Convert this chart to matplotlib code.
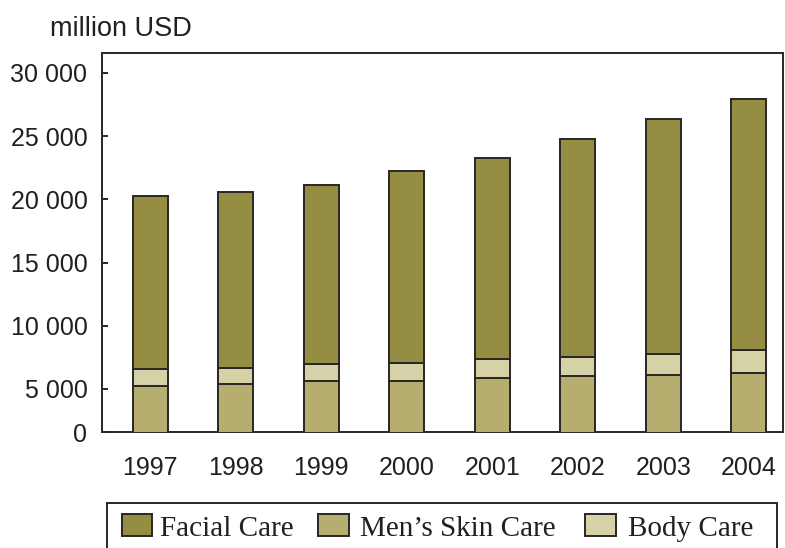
import matplotlib
matplotlib.use("Agg")
import matplotlib.pyplot as plt
from matplotlib.patches import Rectangle

years = ["1997", "1998", "1999", "2000", "2001", "2002", "2003", "2004"]
mens_skin = [5240, 5420, 5630, 5660, 5850, 6030, 6130, 6290]
body_care = [1370, 1270, 1320, 1420, 1500, 1530, 1610, 1800]
facial_care = [13690, 13870, 14190, 15170, 15950, 17230, 18620, 19830]
ytick_vals = [5000, 10000, 15000, 20000, 25000, 30000]
ytick_labels = ["5 000", "10 000", "15 000", "20 000", "25 000", "30 000"]
legend_labels = ["Facial Care", "Men\u2019s Skin Care", "Body Care"]

c_facial = "#958d42"
c_mens = "#b5ae6f"
c_body = "#d6d2a8"
edge = "#2a2626"
txt = "#231f20"

W, H = 785, 548
fig = plt.figure(figsize=(W / 100, H / 100), dpi=100)
ax = fig.add_axes([102 / W, (H - 432) / H, (783 - 102) / W, (432 - 53) / H])

x = list(range(len(years)))
bw = 0.41
ax.bar(x, mens_skin, width=bw, color=c_mens, edgecolor=edge, linewidth=1.4, zorder=3)
ax.bar(x, body_care, width=bw, bottom=mens_skin, color=c_body, edgecolor=edge, linewidth=1.4, zorder=3)
bottom3 = [m + b for m, b in zip(mens_skin, body_care)]
ax.bar(x, facial_care, width=bw, bottom=bottom3, color=c_facial, edgecolor=edge, linewidth=1.4, zorder=3)

ymin, ymax = 1598, 31582
ax.set_ylim(ymin, ymax)
ax.set_xlim(-0.565, 7.40)

ax.set_yticks([ymin] + ytick_vals)
ax.set_yticklabels(["0"] + ytick_labels, family="Liberation Sans", fontsize=18, color=txt)
ax.tick_params(axis="y", direction="in", length=4, width=1.4, color=edge, pad=10.5)
ax.set_xticks(x)
ax.set_xticklabels(years, family="Liberation Sans", fontsize=18, color=txt)
ax.tick_params(axis="x", length=0, pad=17)

for s in ax.spines.values():
    s.set_linewidth(1.4)
    s.set_color(edge)


def fx(px):
    return px / W


def fy(py):
    return 1 - py / H


fig.text(fx(120.5), fy(35.7), "million USD", ha="center", va="baseline",
         family="Liberation Sans", fontsize=19.5, color=txt)

# legend (drawn manually to match placement)
fig.add_artist(Rectangle((fx(106.7), fy(570)), fx(777) - fx(106.7), fy(503) - fy(570),
                         transform=fig.transFigure, facecolor="none", edgecolor=edge,
                         linewidth=1.4, clip_on=False))
handle_x = [121.7, 318, 585]
text_x = [160, 360, 628]
colors = [c_facial, c_mens, c_body]
for hx, tx, col, lab in zip(handle_x, text_x, colors, legend_labels):
    fig.add_artist(Rectangle((fx(hx), fy(535.7)), fx(30.6), fy(514) - fy(535.7) if False else (535.7 - 514) / H,
                             transform=fig.transFigure, facecolor=col, edgecolor=edge,
                             linewidth=1.4))
    fig.text(fx(tx), fy(536), lab, ha="left", va="baseline",
             family="Liberation Serif", fontsize=21, color=txt)

fig.savefig("out.png", dpi=100)
